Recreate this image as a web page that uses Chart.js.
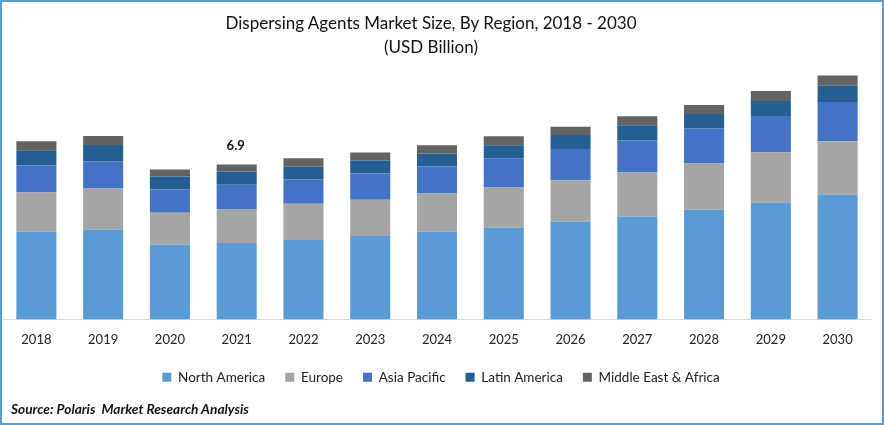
<!DOCTYPE html>
<html>
<head>
<meta charset="utf-8">
<title>Dispersing Agents Market Size</title>
<script src="https://cdn.jsdelivr.net/npm/chart.js@4/dist/chart.umd.min.js"></script>
<style>
  html, body { margin: 0; padding: 0; background: #fff; }
  #wrap { position: relative; width: 884px; height: 425px; overflow: hidden; }
  #frame { position: absolute; inset: 0; border: 2px solid #5b9bd5; box-sizing: border-box; pointer-events: none; }
  #title { position: absolute; left: 131px; width: 600px; top: 11px; text-align: center; font: 17px/24px Lato, sans-serif; color: #111; }
  #source { position: absolute; left: 11px; top: 400px; font: italic bold 13.7px Lato, sans-serif; color: #111; }
</style>
</head>
<body>
<div id="wrap">
  <canvas id="chart" width="884" height="425"></canvas>
  <div id="frame"></div>
  <div id="title">Dispersing Agents Market Size, By Region, 2018 - 2030<br>(USD Billion)</div>
  <div id="source">Source: Polaris&nbsp; Market Research Analysis</div>
</div>
<script>
const categories = ['2018', '2019', '2020', '2021', '2022', '2023', '2024', '2025', '2026', '2027', '2028', '2029', '2030'];

const northAmerica = [3.90, 3.99, 3.32, 3.40, 3.54, 3.72, 3.90, 4.08, 4.35, 4.57, 4.88, 5.20, 5.56];
const europe = [1.75, 1.84, 1.43, 1.52, 1.61, 1.61, 1.70, 1.79, 1.84, 1.97, 2.06, 2.24, 2.37];
const asiaPacific = [1.21, 1.21, 1.03, 1.08, 1.08, 1.16, 1.21, 1.30, 1.39, 1.43, 1.57, 1.61, 1.75];
const latinAmerica = [0.67, 0.72, 0.58, 0.58, 0.58, 0.58, 0.58, 0.58, 0.63, 0.67, 0.63, 0.67, 0.72];
const middleEast = [0.40, 0.40, 0.31, 0.31, 0.36, 0.36, 0.36, 0.40, 0.36, 0.40, 0.40, 0.45, 0.45];

const labelYear = '2021';
const labelText = '6.9';

const FONT = 'Lato, sans-serif';

function series(label, data, color) {
  return { label, data, backgroundColor: color, barPercentage: 0.6, categoryPercentage: 1 };
}

// value above the 2021 bar
const totalLabel = {
  id: 'totalLabel',
  afterDatasetsDraw(chart) {
    const { ctx, scales } = chart;
    const i = categories.indexOf(labelYear);
    const total = chart.data.datasets.reduce((sum, d) => sum + d.data[i], 0);
    ctx.save();
    ctx.font = 'bold 13px ' + FONT;
    ctx.fillStyle = '#111';
    ctx.textAlign = 'center';
    ctx.textBaseline = 'bottom';
    ctx.fillText(labelText, scales.x.getPixelForValue(i) - 1, scales.y.getPixelForValue(total) - 12);
    ctx.restore();
  }
};

new Chart(document.getElementById('chart'), {
  type: 'bar',
  data: {
    labels: categories,
    datasets: [
      series('North America', northAmerica, '#5b9bd5'),
      series('Europe', europe, '#a5a5a5'),
      series('Asia Pacific', asiaPacific, '#4472c4'),
      series('Latin America', latinAmerica, '#255e91'),
      series('Middle East & Africa', middleEast, '#636363')
    ]
  },
  options: {
    responsive: false,
    animation: false,
    layout: { padding: { left: 3, right: 5, top: 61, bottom: 31 } },
    plugins: {
      tooltip: { enabled: false },
      title: { display: false },
      legend: {
        position: 'bottom',
        labels: {
          color: '#222',
          font: { family: FONT, size: 13.5 },
          boxWidth: 9,
          boxHeight: 9,
          padding: 20
        }
      }
    },
    scales: {
      x: {
        stacked: true,
        grid: { display: false, drawTicks: false },
        border: { color: '#d9d9d9' },
        ticks: { color: '#222', font: { family: FONT, size: 13 }, padding: 13, maxRotation: 0 },
        afterFit(scale) { scale.height = 31; }
      },
      // kept only to hold the gap on the right of the plot
      y: {
        stacked: true,
        position: 'right',
        min: 0,
        max: 11.5,
        grid: { display: false, drawTicks: false },
        border: { display: false },
        ticks: { display: false },
        afterFit(scale) { scale.width = 8; }
      }
    }
  },
  plugins: [totalLabel]
});
</script>
</body>
</html>
